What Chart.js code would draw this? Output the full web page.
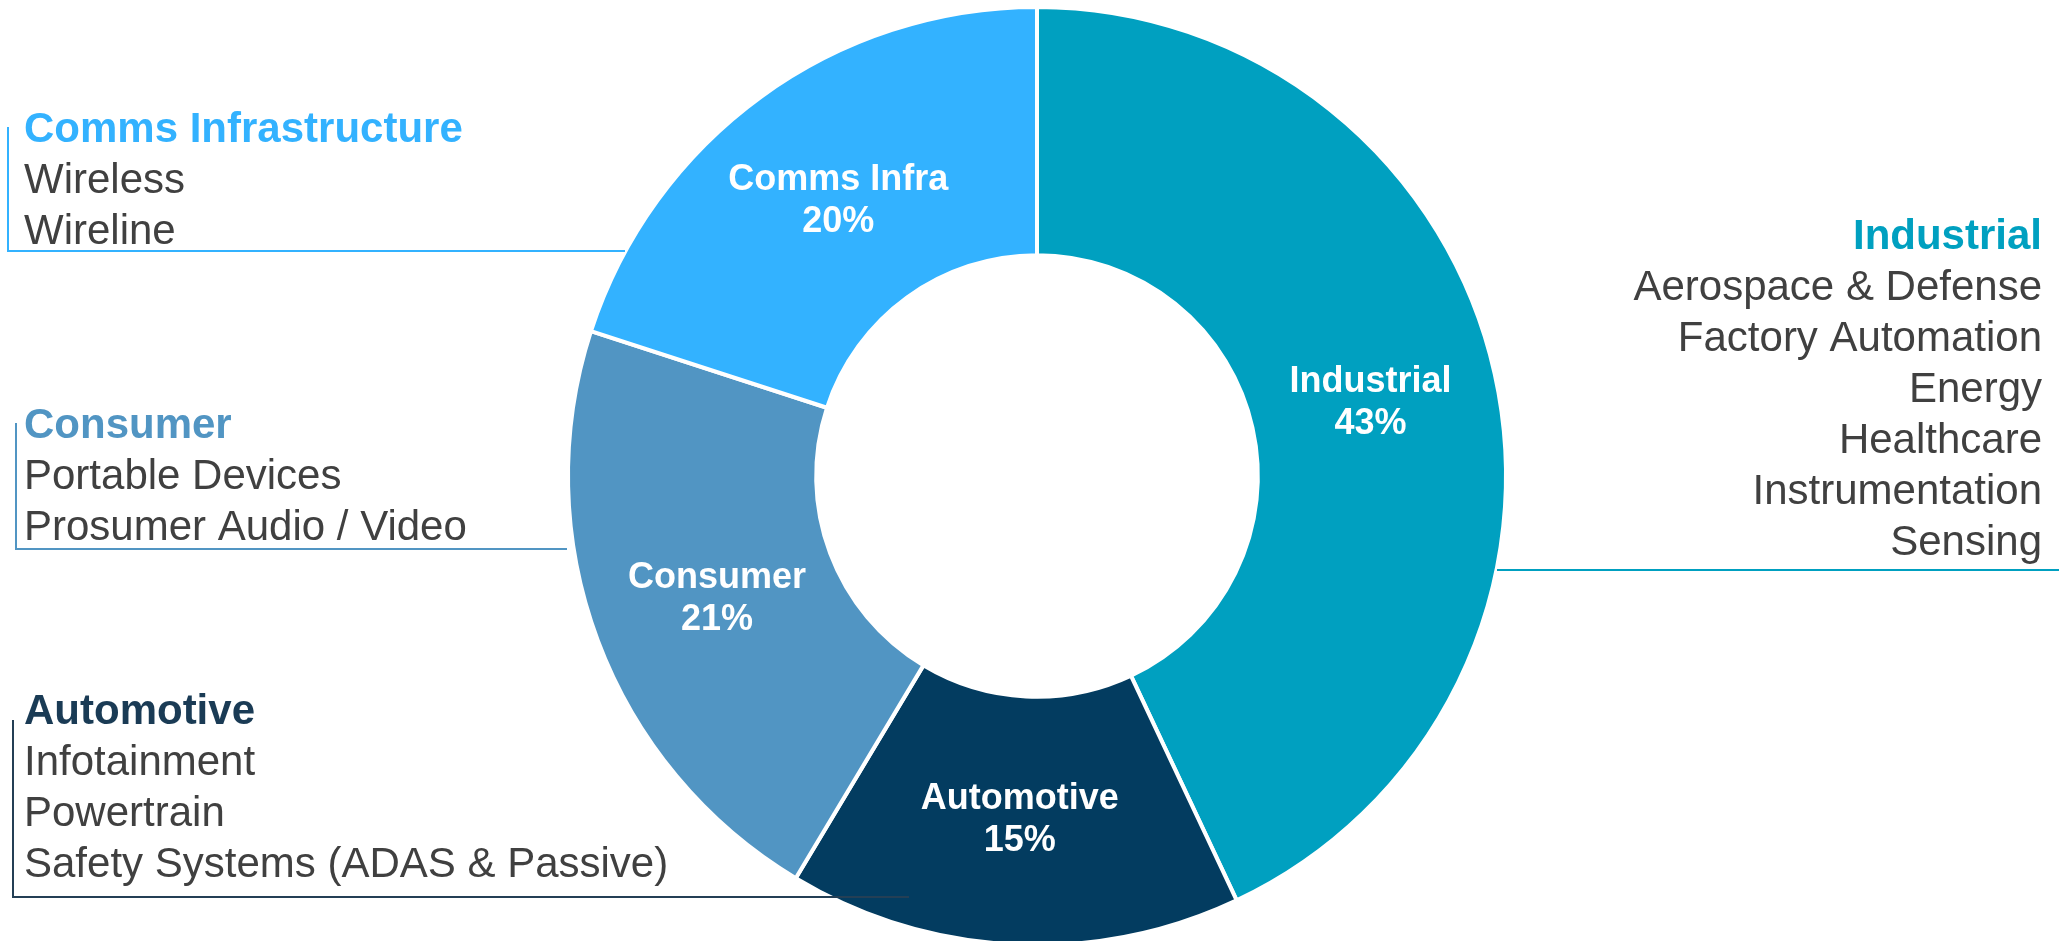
<!DOCTYPE html>
<html>
<head>
<meta charset="utf-8">
<script src="https://cdn.jsdelivr.net/npm/chart.js@4/dist/chart.umd.min.js"></script>
<style>
  html, body { margin: 0; padding: 0; background: #ffffff; }
  #wrap { position: relative; width: 2059px; height: 941px; }
</style>
</head>
<body>
<div id="wrap"><canvas id="donut" width="2059" height="941"></canvas></div>
<script>
// segments, clockwise from 12 o'clock
var segments = ['Industrial', 'Automotive', 'Consumer', 'Comms Infra']
var shares = [43, 15.6, 21.4, 20]          // slice sizes
var shareLabels = ['43%', '15%', '21%', '20%'] // percentages as printed
var colors = ['#00a0c0', '#033c60', '#5195c3', '#33b2ff']

// side captions
var industrialItems = ['Aerospace & Defense', 'Factory Automation', 'Energy', 'Healthcare', 'Instrumentation', 'Sensing']
var commsItems = ['Wireless', 'Wireline']
var consumerItems = ['Portable Devices', 'Prosumer Audio / Video']
var automotiveItems = ['Infotainment', 'Powertrain', 'Safety Systems (ADAS & Passive)']

var FONT = 'Liberation Sans, Arial, Helvetica, sans-serif'

var sliceLabels = {
  id: 'sliceLabels',
  afterDatasetsDraw(chart) {
    var ctx = chart.ctx
    var meta = chart.getDatasetMeta(0)
    // small hand nudges off the slice middles
    var nudge = [[-3, 2], [0, 0], [3, 2], [4, 4]]
    ctx.save()
    ctx.fillStyle = '#ffffff'
    ctx.font = 'bold 36px ' + FONT
    ctx.textAlign = 'center'
    ctx.textBaseline = 'middle'
    meta.data.forEach((arc, i) => {
      var p = arc.getCenterPoint()
      var x = p.x + nudge[i][0], y = p.y + nudge[i][1]
      ctx.fillText(segments[i], x, y - 21)
      ctx.fillText(shareLabels[i], x, y + 21)
    })
    ctx.restore()
  }
}

// caption blocks with their leader lines
function drawBlock(ctx, title, items, color, x, y, align) {
  ctx.textAlign = align
  ctx.textBaseline = 'middle'
  ctx.fillStyle = color
  ctx.font = 'bold 42px ' + FONT
  ctx.fillText(title, x, y)
  ctx.fillStyle = '#404040'
  ctx.font = '42px ' + FONT
  items.forEach((t, i) => {
    ctx.fillText(t, x, y + 51 * (i + 1))
  })
}

function leader(ctx, color, pts) {
  ctx.strokeStyle = color
  ctx.lineWidth = 2
  ctx.beginPath()
  ctx.moveTo(pts[0][0], pts[0][1])
  for (var i = 1; i < pts.length; i++) ctx.lineTo(pts[i][0], pts[i][1])
  ctx.stroke()
}

var captions = {
  id: 'captions',
  afterDraw(chart) {
    var ctx = chart.ctx
    ctx.save()
    leader(ctx, '#33b2ff', [[8, 127], [8, 251], [625, 251]])
    leader(ctx, '#5195c3', [[16, 423], [16, 549], [567, 549]])
    leader(ctx, '#243f55', [[13, 720], [13, 897], [909, 897]])
    leader(ctx, '#00a0c0', [[1497, 570], [2059, 570]])
    drawBlock(ctx, 'Comms Infrastructure', commsItems, '#33b2ff', 24, 130, 'left')
    drawBlock(ctx, 'Consumer', consumerItems, '#5195c3', 24, 426, 'left')
    drawBlock(ctx, 'Automotive', automotiveItems, '#1a3b55', 24, 712, 'left')
    drawBlock(ctx, 'Industrial', industrialItems, '#00a0c0', 2042, 237, 'right')
    ctx.restore()
  }
}

new Chart(document.getElementById('donut'), {
  type: 'doughnut',
  data: {
    labels: segments,
    datasets: [{
      data: shares,
      backgroundColor: colors,
      borderColor: '#ffffff',
      borderWidth: 4,
      hoverOffset: 0
    }]
  },
  options: {
    responsive: false,
    animation: false,
    radius: 469,
    cutout: 218,
    layout: { padding: { left: 15, top: 11 } },
    plugins: {
      legend: { display: false },
      tooltip: { enabled: false }
    }
  },
  plugins: [sliceLabels, captions]
})
</script>
</body>
</html>
